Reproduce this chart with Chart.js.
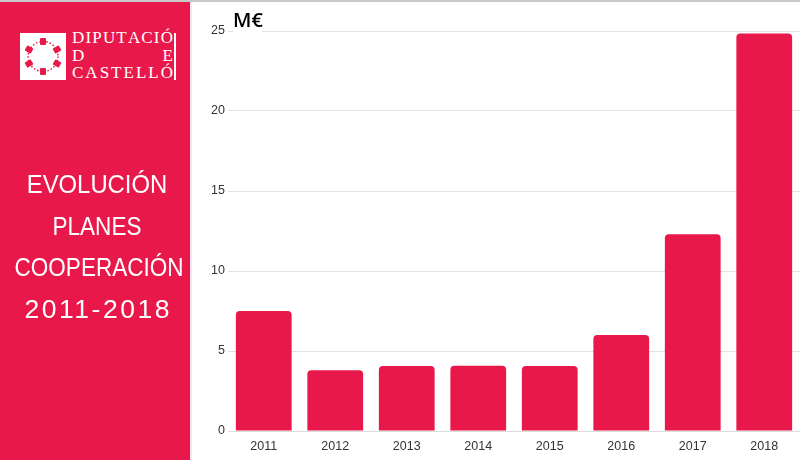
<!DOCTYPE html>
<html>
<head>
<meta charset="utf-8">
<script src="https://cdn.jsdelivr.net/npm/chart.js@4/dist/chart.umd.min.js"></script>
<style>
  html, body { margin:0; padding:0; background:#fff; }
  #page { position:relative; width:800px; height:460px; overflow:hidden; background:#fff; }
  #topline { position:absolute; left:0; top:0; width:800px; height:2px; background:#c9c9c9; }
  #panel { position:absolute; left:0; top:2px; width:190px; height:458px; background:#e8194a; }
  #pinkline { position:absolute; left:190px; top:2px; width:2px; height:458px; background:#fbe6ef; }
  #logoBox { position:absolute; left:20px; top:33px; width:46px; height:47px; background:#fff; }
  #logoText { position:absolute; left:72px; top:29px; width:101px; color:#fff;
    font-family:"Liberation Serif", serif; font-size:17px; line-height:17.5px; }
  #logoText div { display:flex; justify-content:space-between; }
  #logoBar { position:absolute; left:174px; top:33px; width:2px; height:47px; background:#fff; }
  #title { position:absolute; left:0; top:164px; width:194px; color:#fff;
    font-family:"Liberation Sans", sans-serif; font-size:26.5px; line-height:41.7px; }
  #title div { text-align:center; white-space:nowrap; transform-origin:97px 0; }
  #t1 { transform:scaleX(0.9); }
  #t2 { transform:scaleX(0.85); }
  #t3 { transform:scaleX(0.85); }
  #t4 { letter-spacing:2.5px; text-indent:2.5px; }
  #unit { position:absolute; left:233px; top:6px; width:29px; height:28px; background:#fff;
    font-family:"Open Sans", sans-serif; font-weight:600; font-size:20px; line-height:28px; color:#000; }
  #chartWrap { position:absolute; left:190px; top:0; width:610px; height:460px; }
</style>
</head>
<body>
<div id="page">
  <div id="chartWrap"><canvas id="c" width="610" height="460"></canvas></div>
  <div id="topline"></div>
  <div id="panel"></div>
  <div id="pinkline"></div>
  <div id="logoBox">
    <svg width="46" height="47" viewBox="0 0 46 47">
      <circle cx="23" cy="23.5" r="15" fill="none" stroke="#e8194a" stroke-width="1.5" stroke-dasharray="1.5 2"/>
      <g fill="#e8194a">
        <rect x="20" y="5" width="6" height="7" rx="1"/>
        <rect x="20" y="35" width="6" height="7" rx="1"/>
        <rect x="6" y="13" width="6" height="7" rx="1" transform="rotate(-60 9 16.5)"/>
        <rect x="34" y="13" width="6" height="7" rx="1" transform="rotate(60 37 16.5)"/>
        <rect x="6" y="27" width="6" height="7" rx="1" transform="rotate(60 9 30.5)"/>
        <rect x="34" y="27" width="6" height="7" rx="1" transform="rotate(-60 37 30.5)"/>
      </g>
    </svg>
  </div>
  <div id="logoText">
    <div><span>D</span><span>I</span><span>P</span><span>U</span><span>T</span><span>A</span><span>C</span><span>I</span><span>Ó</span></div>
    <div><span>D</span><span>E</span></div>
    <div><span>C</span><span>A</span><span>S</span><span>T</span><span>E</span><span>L</span><span>L</span><span>Ó</span></div>
  </div>
  <div id="logoBar"></div>
  <div id="title"><div id="t1">EVOLUCIÓN</div><div id="t2">PLANES</div><div id="t3">COOPERACIÓN</div><div id="t4">2011-2018</div></div>
  <div id="unit">M€</div>
</div>
<script>
const categories = ["2011","2012","2013","2014","2015","2016","2017","2018"];
const values = [7.5, 3.8, 4.07, 4.08, 4.06, 6.0, 12.3, 24.85];
const yMax = 25;
const yStep = 5;
const barColor = "#e8194a";

new Chart(document.getElementById("c"), {
  type: "bar",
  data: {
    labels: categories,
    datasets: [{
      data: values,
      backgroundColor: barColor,
      borderRadius: { topLeft: 4, topRight: 4, bottomLeft: 0, bottomRight: 0 },
      borderSkipped: "bottom",
      categoryPercentage: 1.0,
      barPercentage: 0.78
    }]
  },
  options: {
    responsive: false,
    animation: false,
    layout: { padding: { top: 31, left: 0, right: 0, bottom: 0 } },
    plugins: { legend: { display: false }, tooltip: { enabled: false } },
    scales: {
      x: {
        grid: { display: false, drawTicks: false },
        border: { display: true, color: "#dcdcdc", width: 1 },
        ticks: { color: "#333", font: { family: "Liberation Sans, Arial, sans-serif", size: 12.5 }, padding: 8 },
        afterFit: s => { s.height = 29; }
      },
      y: {
        min: 0, max: yMax,
        ticks: { stepSize: yStep, color: "#333", font: { family: "Liberation Sans, Arial, sans-serif", size: 12.5 }, padding: 3 },
        grid: { color: "#e2e2e2", drawTicks: false },
        border: { display: false },
        afterFit: s => { s.width = 38; }
      }
    }
  }
});
</script>
</body>
</html>
